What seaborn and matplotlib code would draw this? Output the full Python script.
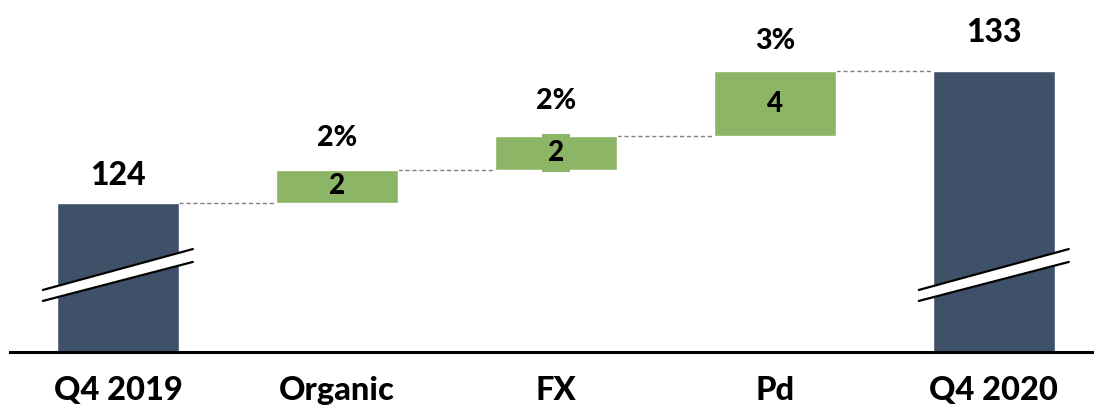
# Waterfall chart: Q4 2019 -> Q4 2020 bridge
import numpy as np
import pandas as pd
import seaborn as sns
import matplotlib.pyplot as plt

categories = ["Q4 2019", "Organic", "FX", "Pd", "Q4 2020"]
start_value = 124
deltas = [2.25, 2.3, 4.45]          # bar sizes as drawn
delta_labels = ["2", "2", "4"]      # rounded labels shown in bars
pct_labels = ["2%", "2%", "3%"]
end_value = 133

navy = "#3f5169"
green = "#8cb565"

if __name__ == "__main__":
    sns.set_theme(style="white")
    plt.rcParams["font.family"] = ["Lato", "DejaVu Sans"]
    plt.rcParams["text.color"] = "black"
    plt.rcParams["xtick.color"] = "black"

    fig = plt.figure(figsize=(10.94, 4.05), dpi=100)
    ax = fig.add_axes([10 / 1094, 53 / 405, 1084 / 1094, 352 / 405])

    width = 0.557
    y_bottom, y_top = 113.84, 137.84
    wt = 900

    # totals with seaborn
    totals = pd.DataFrame({"cat": [categories[0], categories[-1]],
                           "val": [start_value, end_value]})
    sns.barplot(data=totals, x="cat", y="val", order=categories, color=navy,
                width=width, saturation=1, ax=ax)

    # floating bars
    running = start_value
    bottoms = []
    for i, d in enumerate(deltas):
        bottoms.append(running)
        ax.bar(i + 1, d, bottom=running, width=width, color=green, zorder=2)
        running += d

    # connectors
    levels = [start_value] + [b + d for b, d in zip(bottoms, deltas)]
    for i, lv in enumerate(levels):
        ax.plot([i + width / 2, i + 1 - width / 2], [lv, lv], ls=(0, (3, 2)),
                color="#808080", lw=1, zorder=1)

    # value labels
    ax.annotate(str(start_value), (0, start_value), xytext=(0, 9.5),
                textcoords="offset points", ha="center", va="bottom",
                fontsize=23, fontweight=wt)
    ax.annotate(str(end_value), (4, end_value), xytext=(0, 17),
                textcoords="offset points", ha="center", va="bottom",
                fontsize=23, fontweight=wt)
    pct_off = [14, 16, 12]
    for i, (b, d) in enumerate(zip(bottoms, deltas)):
        kw = {}
        if categories[i + 1] == "FX":
            # the label box pokes out of the thin FX bar
            kw["bbox"] = dict(boxstyle="square,pad=0.22", fc=green, ec="none")
        ax.text(i + 1, b + d / 2, delta_labels[i], ha="center", va="center",
                fontsize=20, fontweight=wt, zorder=3, **kw)
        ax.annotate(pct_labels[i], (i + 1, b + d), xytext=(0, pct_off[i]),
                    textcoords="offset points", ha="center", va="bottom",
                    fontsize=20.5, fontweight=wt)

    # axis break marks on the total bars
    for xc in [0, 4]:
        x0, x1 = xc - 0.343, xc + 0.342
        up = [118.07, 120.86]
        lo = [117.32, 119.98]
        ax.fill([x0, x1, x1, x0], [lo[0], lo[1], up[1], up[0]],
                color="white", zorder=4, clip_on=False)
        ax.plot([x0, x1], up, color="black", lw=1.6, zorder=5, clip_on=False)
        ax.plot([x0, x1], lo, color="black", lw=1.6, zorder=5, clip_on=False)

    ax.set_xlim(-0.493, 4.457)
    ax.set_ylim(y_bottom, y_top)
    ax.set_xlabel("")
    ax.set_ylabel("")
    ax.set_yticks([])
    sns.despine(ax=ax, left=True)
    ax.spines["bottom"].set_linewidth(2.2)
    ax.spines["bottom"].set_color("black")
    ax.tick_params(axis="x", length=0, pad=17, labelsize=23.5)
    for t in ax.get_xticklabels():
        t.set_fontweight(wt)

    fig.savefig("out.png", dpi=100)
